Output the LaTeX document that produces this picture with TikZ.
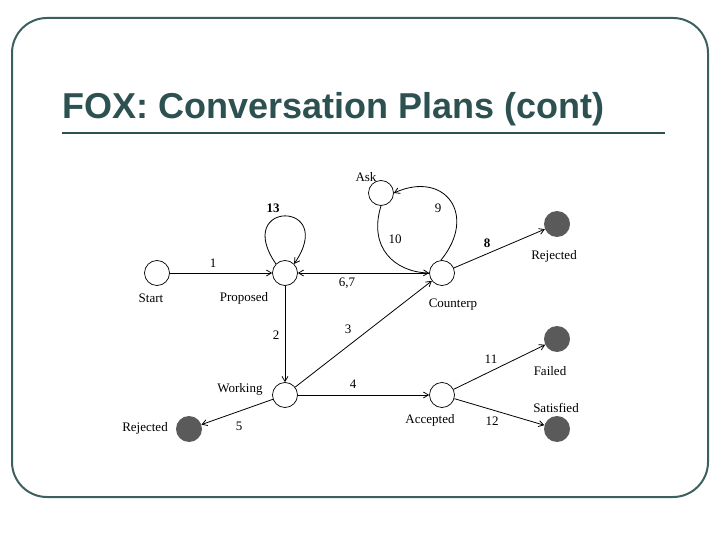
\documentclass[tikz,border=0pt]{standalone}
\usepackage{fontspec}
\setmainfont{Liberation Serif}
\newfontfamily\titlefont{Liberation Sans}
\usetikzlibrary{arrows.meta,positioning}
\definecolor{frame}{RGB}{60,95,95}
\definecolor{ttl}{RGB}{45,80,80}
\definecolor{blob}{RGB}{90,90,90}
\begin{document}
\begin{tikzpicture}[x=1pt,y=-1pt,
  st/.style={circle,draw,line width=0.7pt,minimum size=25pt,inner sep=0pt,fill=white},
  fin/.style={circle,fill=blob,minimum size=26pt,inner sep=0pt},
  lb/.style={font=\fontsize{13}{15}\selectfont,inner sep=0pt},
  ar/.style={-{Straight Barb[length=5pt,width=6pt]},line width=0.8pt}]
\useasboundingbox (0,0) rectangle (720,540);
\draw[frame,line width=2pt,rounded corners=35pt] (12,18) rectangle (708,497);
\node[anchor=base west,text=ttl,font=\titlefont\bfseries\fontsize{36}{40}\selectfont,inner sep=0pt] (title) at (62,119) {FOX: Conversation Plans (cont)};
\draw[ttl,line width=2pt] (62,133) coordinate (l1) -- (665,133) coordinate (l2);
\node[st] (start) at (157,273) {};
\node[st] (prop) at (285,273) {};
\node[st] (coun) at (442,273) {};
\node[st] (ask) at (381,193) {};
\node[st] (work) at (285,395) {};
\node[st] (acc) at (442,395) {};
\node[fin] (rej1) at (557,224) {};
\node[fin] (fail) at (557,339) {};
\node[fin] (sat) at (557,429) {};
\node[fin] (rej2) at (189,429) {};
\node[lb] (tstart) at (151,298) {Start};
\node[lb] (tprop) at (244,298) {Proposed};
\node[lb] (tcoun) at (453,305) {Counterp};
\node[lb] (task) at (366,177) {Ask};
\node[lb] (twork) at (240,389) {Working};
\node[lb] (tacc) at (430,420) {Accepted};
\node[lb] (trej1) at (554,256) {Rejected};
\node[lb] (tfail) at (550,371) {Failed};
\node[lb] (tsat) at (556,408) {Satisfied};
\node[lb] (trej2) at (145,428) {Rejected};
\draw[ar] (start) -- (prop);
\draw[ar] (coun) -- (prop);
\draw[ar] (prop) -- (work);
\draw[ar] (work) -- (coun);
\draw[ar] (work) -- (acc);
\draw[ar] (work) -- (rej2);
\draw[ar] (coun) -- (rej1);
\draw[ar] (acc) -- (fail);
\draw[ar] (acc) -- (sat);
\draw[ar] (prop.135) .. controls (232,200) and (338,200) .. (prop.45);
\draw[ar] (coun.95) .. controls (478,215) and (445,170) .. (ask.east);
\draw[ar] (ask.south) .. controls (368,248) and (395,272) .. (coun.west);
\node[lb] (n1) at (213,263) {1};
\node[lb] (n67) at (347,283) {6,7};
\node[lb] (n2) at (276,335) {2};
\node[lb] (n3) at (348,329) {3};
\node[lb] (n4) at (353,384) {4};
\node[lb] (n5) at (239,426) {5};
\node[lb,font=\bfseries\fontsize{13}{15}\selectfont] (n8) at (487,243) {8};
\node[lb] (n9) at (438,208) {9};
\node[lb] (n10) at (395,239) {10};
\node[lb] (n11) at (491,359) {11};
\node[lb] (n12) at (492,421) {12};
\node[lb,font=\bfseries\fontsize{13}{15}\selectfont] (n13) at (273,208) {13};
\end{tikzpicture}
\end{document}
